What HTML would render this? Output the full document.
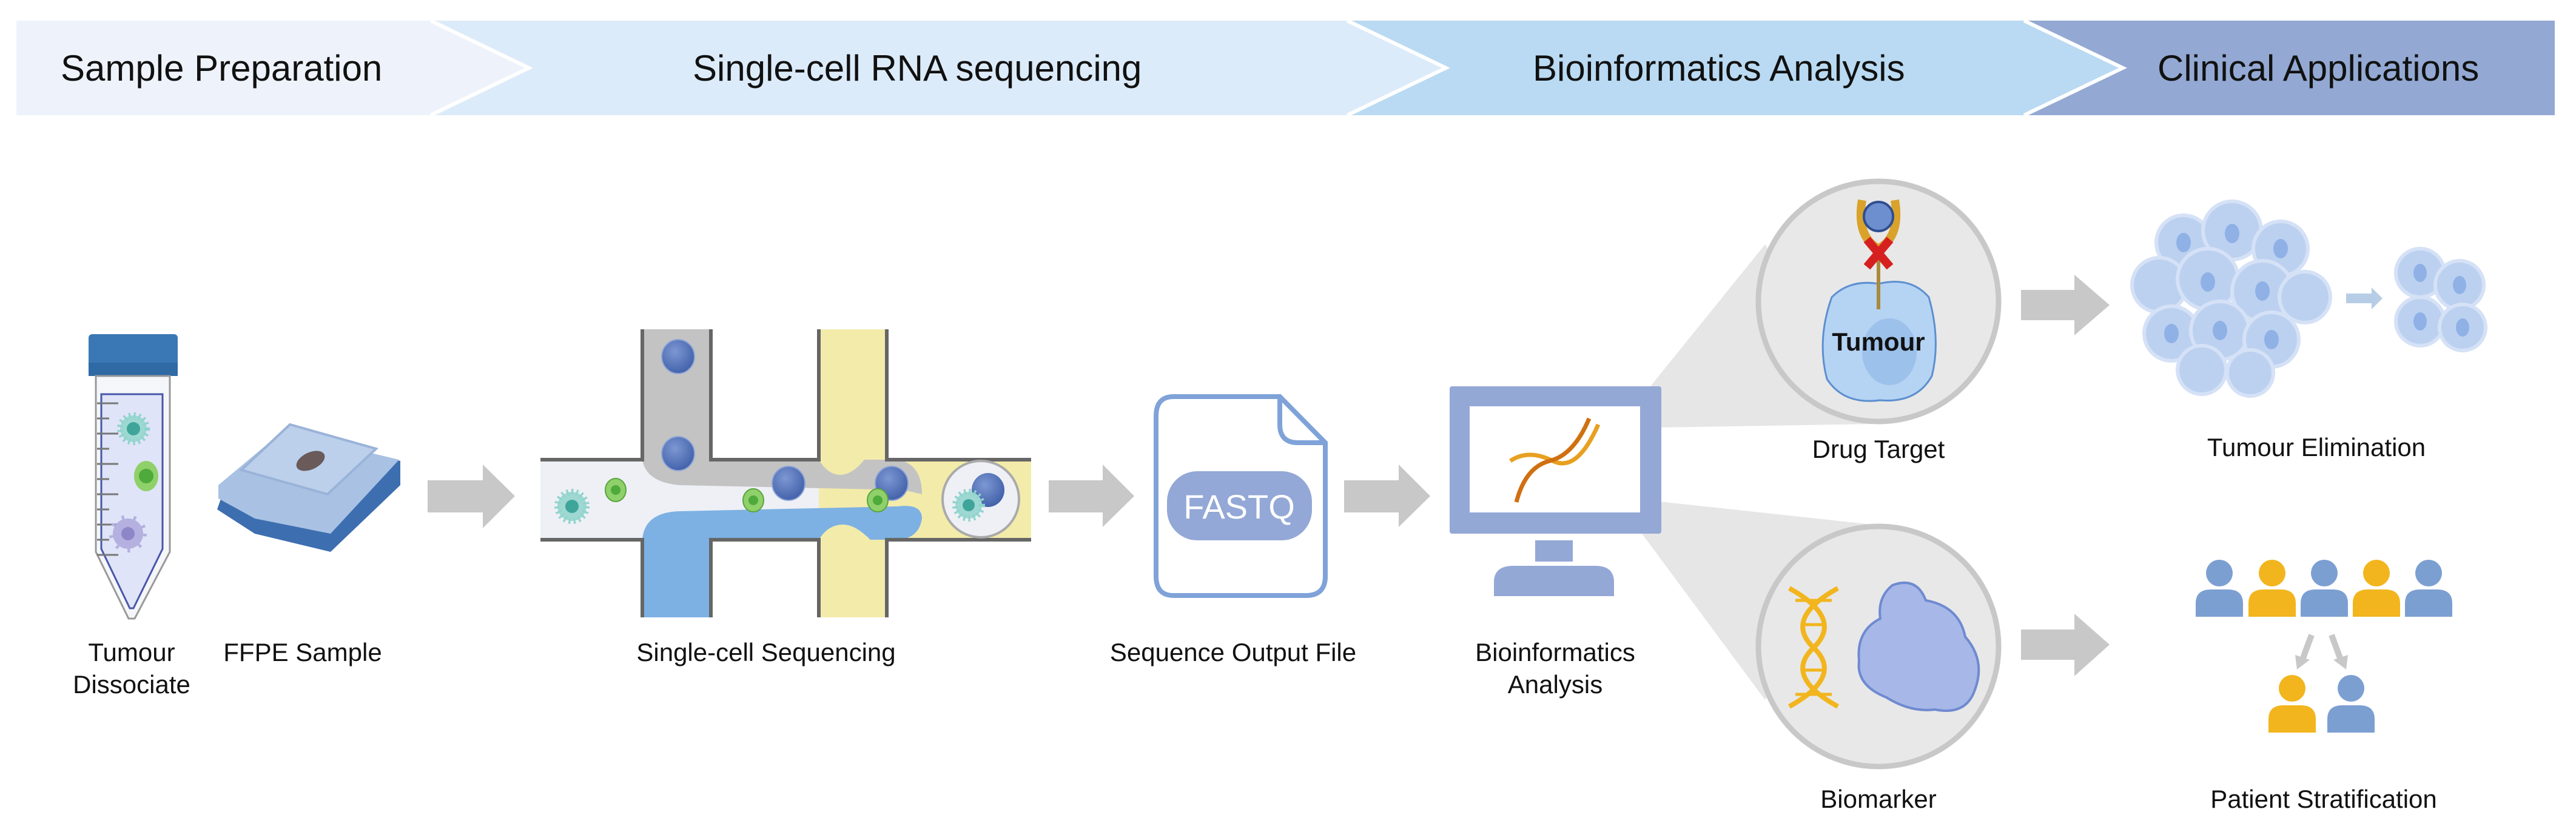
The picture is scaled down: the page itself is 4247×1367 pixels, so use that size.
<!DOCTYPE html>
<html><head><meta charset="utf-8"><style>
html,body{margin:0;padding:0;background:#fff}
svg{display:block}
text{font-family:"Liberation Sans",sans-serif;fill:#111}
</style></head><body>
<svg width="4247" height="1367" viewBox="0 0 4247 1367" xmlns="http://www.w3.org/2000/svg">
<defs>
<radialGradient id="bead" cx="0.4" cy="0.35" r="0.7"><stop offset="0" stop-color="#7d97d2"/><stop offset="1" stop-color="#3f5fa8"/></radialGradient>
</defs>
<!-- Banner -->
<polygon points="27,34 710,34 872,112 710,190 27,190" fill="#eef3fb"/>
<polygon points="712,34 2221,34 2384,112 2221,190 712,190 874,112" fill="#dcebf9"/>
<polygon points="2223,34 3337,34 3500,112 3337,190 2223,190 2386,112" fill="#b9daf2"/>
<polygon points="3339,34 4212,34 4212,190 3339,190 3502,112" fill="#93a9d3"/>
<g stroke="#fff" stroke-width="6" fill="none">
<polyline points="710,34 872,112 710,190"/><polyline points="2221,34 2384,112 2221,190"/><polyline points="3337,34 3500,112 3337,190"/>
</g>
<g font-size="60">
<text x="100" y="133">Sample Preparation</text>
<text x="1142" y="133">Single-cell RNA sequencing</text>
<text x="2527" y="133">Bioinformatics Analysis</text>
<text x="3557" y="133">Clinical Applications</text>
</g>

<!-- Tube -->
<rect x="146" y="551" width="147" height="69" rx="6" fill="#3a78b5"/>
<rect x="146" y="598" width="147" height="22" fill="#2f6aa5"/>
<path d="M158,620 L280,620 L280,910 L222,1020 L212,1020 L158,910 Z" fill="#f4f6fa" stroke="#999" stroke-width="3"/>
<path d="M167,650 L268,650 L268,905 L220,1003 L214,1003 L167,905 Z" fill="#dfe4f8" stroke="#4a56a8" stroke-width="3"/>
<g stroke="#777" stroke-width="3">
<line x1="160" y1="665" x2="195" y2="665"/><line x1="160" y1="690" x2="180" y2="690"/><line x1="160" y1="715" x2="195" y2="715"/><line x1="160" y1="740" x2="180" y2="740"/><line x1="160" y1="765" x2="195" y2="765"/><line x1="160" y1="790" x2="180" y2="790"/><line x1="160" y1="815" x2="195" y2="815"/><line x1="160" y1="840" x2="180" y2="840"/><line x1="160" y1="865" x2="195" y2="865"/><line x1="160" y1="890" x2="180" y2="890"/><line x1="160" y1="915" x2="195" y2="915"/>
</g>
<circle cx="220" cy="707" r="22" fill="#9ed8d3" stroke="#8fd3cc" stroke-width="10" stroke-dasharray="3 5"/>
<circle cx="220" cy="707" r="11" fill="#3fa59a"/>
<ellipse cx="241" cy="785" rx="20" ry="25" fill="#8fd06a"/><circle cx="241" cy="785" r="12" fill="#4eaa3a"/>
<circle cx="211" cy="880" r="25" fill="#b4b0e0" stroke="#b4b0e0" stroke-width="12" stroke-dasharray="4 14"/><circle cx="211" cy="880" r="11" fill="#8d86c9"/>
<text x="217" y="1090" font-size="42" text-anchor="middle">Tumour</text>
<text x="217" y="1143" font-size="42" text-anchor="middle">Dissociate</text>

<!-- FFPE -->
<polygon points="365,820 460,715 660,760 660,800 545,910 420,880 358,840" fill="#3d6eb0"/>
<polygon points="360,800 465,712 658,758 545,880 420,855 360,822" fill="#a9c2e4"/>
<polygon points="398,775 478,700 620,740 540,815" fill="#bcd0ec" stroke="#9ab3d8" stroke-width="4"/>
<ellipse cx="512" cy="760" rx="25" ry="14" fill="#6a5a5a" transform="rotate(-25 512 760)"/>
<text x="499" y="1090" font-size="42" text-anchor="middle">FFPE Sample</text>

<!-- Arrow 1 -->
<polygon points="705,792 796,792 796,766 849,818 796,871 796,845 705,845" fill="#c8c8c8"/>

<!-- Microfluidic -->
<rect x="891" y="758" width="809" height="132" fill="#eef0f6"/>
<rect x="1059" y="543" width="113" height="215" fill="#c3c3c3"/>
<rect x="1059" y="890" width="113" height="128" fill="#7db1e3"/>
<rect x="1350" y="543" width="112" height="475" fill="#f3ebaa"/>
<rect x="1462" y="758" width="238" height="132" fill="#f3ebaa"/>
<path d="M1059,758 L1172,758 L1350,758 Q1365,783 1385,783 Q1405,783 1425,758 L1480,758 Q1520,765 1520,815 L1490,808 L1120,800 Q1065,795 1059,758 Z" fill="#c3c3c3"/>
<path d="M1059,890 Q1062,845 1120,843 L1480,835 Q1520,830 1520,855 Q1515,888 1480,890 L1435,890 Q1410,865 1390,865 Q1365,865 1350,890 Z" fill="#7db1e3"/>
<g stroke="#666" stroke-width="6" fill="none">
<polyline points="891,758 1059,758 1059,543"/><polyline points="1172,543 1172,758 1350,758 1350,543"/><polyline points="1462,543 1462,758 1700,758"/>
<polyline points="891,890 1059,890 1059,1018"/><polyline points="1172,1018 1172,890 1350,890 1350,1018"/><polyline points="1462,1018 1462,890 1700,890"/>
</g>
<g fill="url(#bead)" stroke="#8fa5d8" stroke-width="2">
<ellipse cx="1118" cy="588" rx="27" ry="28"/><ellipse cx="1118" cy="748" rx="27" ry="28"/><ellipse cx="1300" cy="797" rx="27" ry="28"/><ellipse cx="1470" cy="797" rx="27" ry="28"/>
</g>
<g fill="#8fd06a" stroke="#5aa53e" stroke-width="2">
<ellipse cx="1015" cy="808" rx="17" ry="19"/><ellipse cx="1242" cy="825" rx="17" ry="19"/><ellipse cx="1447" cy="825" rx="17" ry="19"/>
</g>
<g fill="#4eaa3a"><circle cx="1015" cy="808" r="8"/><circle cx="1242" cy="825" r="8"/><circle cx="1447" cy="825" r="8"/></g>
<circle cx="943" cy="835" r="24" fill="#9ed8d3" stroke="#8fd3cc" stroke-width="10" stroke-dasharray="3 5"/><circle cx="943" cy="835" r="11" fill="#3fa59a"/>
<circle cx="1617" cy="823" r="63" fill="#eef0f6" stroke="#aaa" stroke-width="4"/>
<ellipse cx="1629" cy="808" rx="27" ry="28" fill="url(#bead)"/>
<circle cx="1597" cy="833" r="22" fill="#9ed8d3" stroke="#8fd3cc" stroke-width="10" stroke-dasharray="3 5"/><circle cx="1597" cy="833" r="10" fill="#3fa59a"/>
<text x="1263" y="1090" font-size="42" text-anchor="middle">Single-cell Sequencing</text>

<!-- Arrow 2 -->
<polygon points="1729,792 1818,792 1818,766 1870,818 1818,869 1818,845 1729,845" fill="#c8c8c8"/>

<!-- FASTQ doc -->
<path d="M1935,654 L2110,654 L2185,730 L2185,950 Q2185,982 2153,982 L1935,982 Q1906,982 1906,950 L1906,686 Q1906,654 1935,654 Z" fill="#fff" stroke="#7fa3d8" stroke-width="8"/>
<path d="M2110,654 L2110,700 Q2110,730 2140,730 L2185,730" fill="none" stroke="#7fa3d8" stroke-width="8"/>
<rect x="1924" y="777" width="239" height="114" rx="50" fill="#93a8d6"/>
<text x="2043" y="855" font-size="56" text-anchor="middle" style="fill:#fff">FASTQ</text>
<text x="2033" y="1090" font-size="42" text-anchor="middle">Sequence Output File</text>

<!-- Arrow 3 -->
<polygon points="2216,792 2306,792 2306,766 2358,818 2306,869 2306,845 2216,845" fill="#c8c8c8"/>

<!-- Wedges -->
<polygon points="2671,699 2910,403 3097,699 2671,706" fill="#e6e6e6"/>
<polygon points="2671,820 3097,866 2910,1154 2707,880" fill="#e6e6e6"/>

<!-- Monitor -->
<rect x="2390" y="637" width="349" height="243" rx="4" fill="#94a8d6"/>
<rect x="2423" y="670" width="281" height="175" fill="#fff"/>
<rect x="2531" y="891" width="62" height="35" fill="#94a8d6"/>
<path d="M2463,983 L2463,960 Q2463,933 2495,933 L2630,933 Q2661,933 2661,960 L2661,983 Z" fill="#94a8d6"/>
<g fill="none" stroke-width="7">
<path d="M2490,760 Q2520,740 2560,760 T2635,700" stroke="#e8a020"/>
<path d="M2500,828 Q2515,770 2555,760 T2620,690" stroke="#d07010"/>
</g>
<text x="2564" y="1090" font-size="42" text-anchor="middle">Bioinformatics</text>
<text x="2564" y="1143" font-size="42" text-anchor="middle">Analysis</text>

<!-- Top circle -->
<circle cx="3097" cy="497" r="198" fill="#e8e8e8" stroke="#c8c8c8" stroke-width="9"/>
<path d="M3020,490 Q3050,460 3097,468 Q3150,455 3180,490 Q3200,560 3185,620 Q3160,665 3100,660 Q3040,668 3012,625 Q2995,560 3020,490 Z" fill="#b5d3f3" stroke="#5c8fd0" stroke-width="3"/>
<ellipse cx="3115" cy="580" rx="45" ry="55" fill="#9cc1ea"/>
<line x1="3097" y1="404" x2="3097" y2="510" stroke="#a98a3a" stroke-width="6"/>
<path d="M3070,330 Q3060,390 3097,410 Q3134,390 3124,330" fill="none" stroke="#d9a22b" stroke-width="14"/>
<circle cx="3097" cy="357" r="24" fill="#6d8fd0" stroke="#2f4f8f" stroke-width="4"/>
<g stroke="#d62020" stroke-width="14"><line x1="3078" y1="395" x2="3116" y2="440"/><line x1="3116" y1="395" x2="3078" y2="440"/></g>
<text x="3097" y="578" font-size="42" font-weight="bold" text-anchor="middle">Tumour</text>
<text x="3097" y="755" font-size="42" text-anchor="middle">Drug Target</text>

<!-- Bottom circle -->
<circle cx="3097" cy="1066" r="198" fill="#e8e8e8" stroke="#c8c8c8" stroke-width="9"/>
<g fill="none" stroke="#f2b51e" stroke-width="8">
<path d="M2950,970 Q3040,1020 2990,1068 Q2940,1115 3030,1165"/>
<path d="M3030,970 Q2940,1020 2990,1068 Q3040,1115 2950,1165"/>
</g>
<g stroke="#f2b51e" stroke-width="5"><line x1="2960" y1="990" x2="3020" y2="990"/><line x1="2975" y1="1030" x2="3005" y2="1030"/><line x1="2975" y1="1105" x2="3005" y2="1105"/><line x1="2960" y1="1145" x2="3020" y2="1145"/></g>
<path d="M3120,965 Q3160,950 3175,990 Q3230,1000 3240,1050 Q3275,1090 3255,1140 Q3240,1180 3190,1170 Q3150,1175 3110,1150 Q3060,1130 3065,1090 Q3060,1040 3100,1020 Q3095,985 3120,965 Z" fill="#a7b8e8" stroke="#6f8ad0" stroke-width="4"/>
<text x="3097" y="1332" font-size="42" text-anchor="middle">Biomarker</text>

<!-- Arrows right -->
<polygon points="3332,478 3420,478 3420,453 3478,503 3420,553 3420,528 3332,528" fill="#c8c8c8"/>
<polygon points="3332,1038 3420,1038 3420,1012 3478,1063 3420,1115 3420,1088 3332,1088" fill="#c8c8c8"/>
<polygon points="3868,484 3910,484 3910,474 3928,492 3910,510 3910,500 3868,500" fill="#b7cde6"/>

<!-- Tumour cluster -->
<g fill="#b9cff0" stroke="#d3e0f6" stroke-width="6" opacity="0.95">
<circle cx="3600" cy="400" r="45"/><circle cx="3680" cy="380" r="48"/><circle cx="3760" cy="410" r="45"/><circle cx="3560" cy="470" r="45"/><circle cx="3640" cy="460" r="50"/><circle cx="3730" cy="480" r="50"/><circle cx="3800" cy="490" r="42"/><circle cx="3580" cy="550" r="45"/><circle cx="3660" cy="545" r="48"/><circle cx="3745" cy="560" r="45"/><circle cx="3630" cy="610" r="40"/><circle cx="3710" cy="615" r="38"/>
<circle cx="3990" cy="450" r="40"/><circle cx="4055" cy="470" r="40"/><circle cx="3990" cy="530" r="40"/><circle cx="4060" cy="540" r="38"/>
</g>
<g fill="#8fb1e6">
<ellipse cx="3600" cy="400" rx="12" ry="16"/><ellipse cx="3680" cy="385" rx="12" ry="16"/><ellipse cx="3760" cy="410" rx="12" ry="16"/><ellipse cx="3640" cy="465" rx="12" ry="16"/><ellipse cx="3730" cy="480" rx="12" ry="16"/><ellipse cx="3580" cy="550" rx="12" ry="16"/><ellipse cx="3660" cy="545" rx="12" ry="16"/><ellipse cx="3745" cy="560" rx="12" ry="16"/><ellipse cx="3990" cy="450" rx="11" ry="15"/><ellipse cx="4055" cy="470" rx="11" ry="15"/><ellipse cx="3990" cy="530" rx="11" ry="15"/><ellipse cx="4060" cy="540" rx="11" ry="15"/>
</g>
<text x="3819" y="752" font-size="42" text-anchor="middle">Tumour Elimination</text>

<!-- People -->
<g>
<circle cx="3659" cy="945" r="22" fill="#7c9fd2"/><path d="M3620,1017 L3620,995 Q3620,972 3645,972 L3673,972 Q3698,972 3698,995 L3698,1017 Z" fill="#7c9fd2"/>
<circle cx="3746" cy="945" r="22" fill="#f2b51e"/><path d="M3707,1017 L3707,995 Q3707,972 3732,972 L3760,972 Q3785,972 3785,995 L3785,1017 Z" fill="#f2b51e"/>
<circle cx="3832" cy="945" r="22" fill="#7c9fd2"/><path d="M3793,1017 L3793,995 Q3793,972 3818,972 L3846,972 Q3871,972 3871,995 L3871,1017 Z" fill="#7c9fd2"/>
<circle cx="3918" cy="945" r="22" fill="#f2b51e"/><path d="M3879,1017 L3879,995 Q3879,972 3904,972 L3932,972 Q3957,972 3957,995 L3957,1017 Z" fill="#f2b51e"/>
<circle cx="4004" cy="945" r="22" fill="#7c9fd2"/><path d="M3965,1017 L3965,995 Q3965,972 3990,972 L4018,972 Q4043,972 4043,995 L4043,1017 Z" fill="#7c9fd2"/>
<circle cx="3779" cy="1135" r="22" fill="#f2b51e"/><path d="M3740,1208 L3740,1186 Q3740,1163 3765,1163 L3793,1163 Q3818,1163 3818,1186 L3818,1208 Z" fill="#f2b51e"/>
<circle cx="3876" cy="1135" r="22" fill="#7c9fd2"/><path d="M3837,1208 L3837,1186 Q3837,1163 3862,1163 L3890,1163 Q3915,1163 3915,1186 L3915,1208 Z" fill="#7c9fd2"/>
</g>
<g stroke="#c8c8c8" stroke-width="10"><line x1="3811" y1="1047" x2="3797" y2="1085"/><line x1="3844" y1="1047" x2="3858" y2="1085"/></g>
<polygon points="3784,1080 3808,1088 3787,1104" fill="#c8c8c8"/><polygon points="3847,1088 3871,1080 3868,1104" fill="#c8c8c8"/>
<text x="3831" y="1332" font-size="42" text-anchor="middle">Patient Stratification</text>
</svg>
</body></html>
